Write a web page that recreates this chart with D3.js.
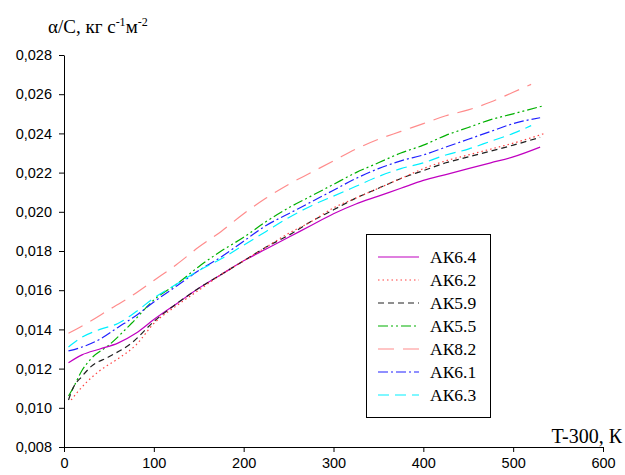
<!DOCTYPE html>
<html><head><meta charset="utf-8">
<script src="https://cdn.jsdelivr.net/npm/d3@7/dist/d3.min.js"></script>
<style>body{margin:0;background:#fff}</style>
</head><body>
<svg id="c" width="625" height="475"></svg>
<script>
const seriesNames = ["АК6.4","АК6.2","АК5.9","АК5.5","АК8.2","АК6.1","АК6.3"];
const colors = ["#C000C0","#FF4040","#202020","#00B000","#FF8C8C","#2020FF","#00F0FF"];
const dashes = ["none","1.5,3","6,4","10,3,2,3,2,3","16,9","10,3,2,3","11,6"];

const T_AK64 = [5,20,40,60,80,100,125,150,175,200,225,250,275,300,325,350,375,400,425,450,475,500,530];
const V_AK64 = [0.0123,0.0127,0.0130,0.0133,0.0138,0.0145,0.0153,0.0161,0.0168,0.0175,0.0181,0.0187,0.0193,0.0199,0.0204,0.0208,0.0212,0.0216,0.0219,0.0222,0.0225,0.0228,0.0233];

const T_AK62 = [8,15,25,40,60,80,100,125,150,175,200,225,250,275,300,325,350,375,400,425,450,475,500,535];
const V_AK62 = [0.0104,0.0108,0.0113,0.0119,0.0125,0.0132,0.0143,0.0152,0.0160,0.0168,0.0175,0.0182,0.0189,0.0195,0.0202,0.0207,0.0212,0.0217,0.0222,0.0226,0.0229,0.0232,0.0235,0.0240];

const T_AK59 = [5,10,20,30,50,75,100,125,150,175,200,225,250,275,300,325,350,375,400,425,450,475,500,530];
const V_AK59 = [0.0104,0.0110,0.0116,0.0121,0.0126,0.0133,0.0144,0.0153,0.0161,0.0168,0.0175,0.0182,0.0188,0.0195,0.0201,0.0207,0.0212,0.0217,0.0221,0.0225,0.0228,0.0231,0.0234,0.0238];

const T_AK55 = [5,10,20,30,50,75,100,125,150,175,200,225,250,275,300,325,350,375,400,425,450,475,500,533];
const V_AK55 = [0.0106,0.0110,0.0119,0.0125,0.0132,0.0143,0.0155,0.0163,0.0172,0.0180,0.0187,0.0195,0.0202,0.0208,0.0214,0.0220,0.0225,0.0230,0.0234,0.0239,0.0243,0.0247,0.0250,0.0254];

const T_AK82 = [5,25,50,75,100,125,150,175,200,225,250,275,300,325,350,375,400,425,450,475,500,520];
const V_AK82 = [0.0138,0.0143,0.0150,0.0157,0.0165,0.0173,0.0182,0.0190,0.0199,0.0207,0.0214,0.0220,0.0226,0.0232,0.0237,0.0241,0.0245,0.0249,0.0252,0.0256,0.0261,0.0265];

const T_AK61 = [5,20,40,60,80,100,125,150,175,200,225,250,275,300,325,350,375,400,425,450,475,500,530];
const V_AK61 = [0.0129,0.0131,0.0135,0.0141,0.0147,0.0154,0.0162,0.0170,0.0177,0.0185,0.0193,0.0199,0.0205,0.0211,0.0217,0.0222,0.0226,0.0229,0.0233,0.0237,0.0241,0.0245,0.0248];

const T_AK63 = [5,20,40,60,80,100,125,150,175,200,225,250,275,300,325,350,375,400,425,450,475,500,520];
const V_AK63 = [0.0131,0.0136,0.0140,0.0143,0.0149,0.0156,0.0163,0.0170,0.0176,0.0183,0.0190,0.0197,0.0203,0.0208,0.0213,0.0218,0.0222,0.0225,0.0229,0.0232,0.0236,0.0240,0.0244];

const xTicks = [0,100,200,300,400,500,600];
const yTicks = [0.008,0.010,0.012,0.014,0.016,0.018,0.020,0.022,0.024,0.026,0.028];

const seriesT = [T_AK64,T_AK62,T_AK59,T_AK55,T_AK82,T_AK61,T_AK63];
const seriesV = [V_AK64,V_AK62,V_AK59,V_AK55,V_AK82,V_AK61,V_AK63];

const svg = d3.select("#c");
const L=64, R=603, Tp=55, B=447;
const x = d3.scaleLinear().domain([0,600]).range([L,R]);
const y = d3.scaleLinear().domain([0.008,0.028]).range([B,Tp]);

const fmt = d => d3.format(".3f")(d).replace(".",",");

const gx = svg.append("g").attr("transform",`translate(0,${B})`)
  .call(d3.axisBottom(x).tickValues(xTicks).tickSize(5).tickPadding(6).tickSizeOuter(0));
const gy = svg.append("g").attr("transform",`translate(${L},0)`)
  .call(d3.axisLeft(y).tickValues(yTicks).tickFormat(fmt).tickSize(5).tickPadding(7).tickSizeOuter(0));
[gx,gy].forEach(g=>{
  g.selectAll("path,line").attr("stroke","#000").attr("stroke-width",1);
  g.selectAll("text").attr("font-family","Liberation Sans, Arial, sans-serif").attr("font-size","14.5px").attr("fill","#000");
});

const line = d3.line().x(d=>x(d[0])).y(d=>y(d[1])).curve(d3.curveMonotoneX);
const order = [4,3,5,6,0,2,1];
order.forEach(i=>{
  const pts = seriesT[i].map((t,j)=>[t,seriesV[i][j]]);
  svg.append("path").datum(pts).attr("d",line).attr("fill","none")
    .attr("stroke",colors[i]).attr("stroke-width",1.2)
    .attr("stroke-dasharray",dashes[i]);
});

// legend
const lg = svg.append("g");
lg.append("rect").attr("x",366.5).attr("y",234.5).attr("width",124).attr("height",183)
  .attr("fill","#fff").attr("stroke","#000").attr("stroke-width",1);
seriesNames.forEach((n,i)=>{
  const yy = 257 + i*23;
  lg.append("line").attr("x1",378).attr("x2",419).attr("y1",yy).attr("y2",yy)
    .attr("stroke",colors[i]).attr("stroke-width",1.2).attr("stroke-dasharray",dashes[i]);
  lg.append("text").attr("x",430).attr("y",yy+6).text(n)
    .attr("font-family","Liberation Serif, Times New Roman, serif").attr("font-size","17.5px");
});

// axis titles
const t1 = svg.append("text").attr("x",48).attr("y",33)
  .attr("font-family","Liberation Serif, Times New Roman, serif").attr("font-size","19px");
t1.append("tspan").text("α/С, кг с");
t1.append("tspan").text("-1").attr("dy",-7).attr("font-size","12px");
t1.append("tspan").text("м").attr("dy",7);
t1.append("tspan").text("-2").attr("dy",-7).attr("font-size","12px");

svg.append("text").attr("x",622).attr("y",443).attr("text-anchor","end")
  .attr("font-family","Liberation Serif, Times New Roman, serif").attr("font-size","20px")
  .text("T-300, К");
</script>
</body></html>
